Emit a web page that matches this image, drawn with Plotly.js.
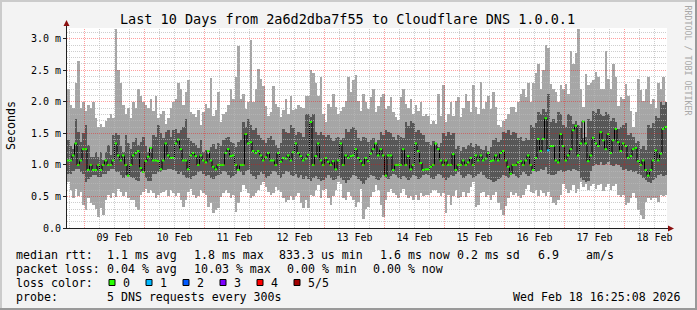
<!DOCTYPE html>
<html><head><meta charset="utf-8">
<script src="https://cdn.plot.ly/plotly-3.0.1.min.js"></script>
<style>html,body{margin:0;padding:0;background:#f3f3f3;}#chart{width:697px;height:310px;}</style>
</head><body><div id="chart"></div>
<script>
// ---- data (milliseconds), one value per hour, starting 2026-02-08 17:00 ----
const startUTC = Date.UTC(2026, 1, 8, 17, 0, 0);
const stepMs = 3600e3;

const maxRtt = [
2.2,1.95,1.9,2.3,2.65,1.9,2.0,1.85,1.95,1.9,2.0,1.75,1.6,1.65,1.6,1.7,1.75,1.8,1.75,3.15,2.5,2.3,1.95,1.8,1.9,1.75,2.0,1.9,2.2,2.1,2.0,1.95,1.9,2.05,1.85,2.1,1.75,1.8,1.85,1.65,1.75,1.9,2.0,2.05,2.3,2.2,1.95,2.15,
2.34,1.84,1.8,1.76,1.87,1.63,1.84,1.97,1.9,2.38,1.78,1.87,2.15,1.68,1.81,1.84,1.95,2.2,2.05,2.4,2.88,2.05,2.13,1.89,2.0,2.98,1.99,2.2,2.52,2.36,2.25,1.94,1.78,1.84,2.25,1.97,1.92,1.76,1.87,2.05,1.81,2.1,1.87,1.89,1.95,1.92,1.9,2.1,
2.1,2.5,2.45,2.3,2.1,2.4,1.8,1.68,1.97,1.92,2.13,1.92,1.8,1.85,1.92,2.02,2.4,2.15,2.34,2.42,2.02,1.86,2.13,2.0,1.89,2.07,2.2,1.84,1.94,2.07,2.13,1.89,1.94,2.07,1.84,1.76,1.71,2.07,2.2,1.97,1.9,2.05,1.8,1.95,1.85,2.0,1.78,1.8,
1.78,1.65,1.7,1.65,2.13,1.78,2.26,1.68,1.81,2.0,1.78,2.02,2.07,1.76,1.9,2.13,2.02,1.84,2.26,1.92,1.81,2.31,1.89,2.0,2.1,1.89,2.15,1.92,1.63,1.6,1.7,1.73,1.81,1.92,1.92,1.84,2.0,2.13,2.2,2.07,2.3,2.0,2.3,2.45,2.6,2.2,2.5,2.9,
2.85,2.28,2.2,2.15,1.99,2.26,2.2,2.28,2.13,2.81,2.6,2.78,3.15,2.2,1.92,2.44,2.26,2.3,2.34,2.47,2.39,2.2,2.2,2.8,2.36,2.2,2.6,2.39,1.94,2.07,2.05,2.28,2.1,1.86,1.6,1.84,2.36,2.18,2.02,2.2,2.39,1.97,2.05,1.9,2.3,2.2,2.4,2.0
];
const minRtt = [
0.73,0.6,0.47,0.62,0.5,0.57,0.36,0.28,0.47,0.4,0.36,0.3,0.18,0.31,0.2,0.44,0.52,0.47,0.55,0.49,0.62,0.57,0.5,0.57,0.47,0.44,0.44,0.34,0.28,0.52,0.57,0.62,0.55,0.6,0.55,0.47,0.52,0.55,0.57,0.6,0.5,0.6,0.55,0.5,0.55,0.45,0.34,0.44,
0.57,0.62,0.52,0.47,0.5,0.6,0.55,0.52,0.34,0.4,0.23,0.28,0.31,0.49,0.55,0.6,0.55,0.47,0.52,0.26,0.4,0.57,0.68,0.62,0.55,0.47,0.5,0.55,0.6,0.68,0.73,0.65,0.57,0.52,0.55,0.65,0.6,0.57,0.47,0.42,0.44,0.5,0.45,0.5,0.55,0.4,0.31,0.45,
0.31,0.52,0.5,0.6,0.68,0.47,0.6,0.62,0.47,0.36,0.5,0.6,0.73,0.7,0.47,0.44,0.57,0.5,0.44,0.34,0.42,0.62,0.15,0.3,0.34,0.49,0.57,0.68,0.6,0.36,0.18,0.44,0.57,0.62,0.55,0.52,0.47,0.55,0.62,0.52,0.47,0.5,0.44,0.52,0.45,0.55,0.5,0.52,
0.52,0.55,0.6,0.6,0.55,0.5,0.55,0.23,0.52,0.36,0.5,0.6,0.47,0.49,0.57,0.49,0.55,0.65,0.73,0.34,0.36,0.55,0.57,0.49,0.52,0.44,0.52,0.57,0.39,0.28,0.2,0.35,0.47,0.57,0.52,0.55,0.5,0.47,0.52,0.62,0.68,0.57,0.55,0.6,0.5,0.6,0.55,0.5,
0.57,0.49,0.4,0.36,0.44,0.52,0.7,0.62,0.55,0.6,0.68,0.55,0.62,0.73,0.65,0.7,0.6,0.66,0.7,0.62,0.68,0.7,0.58,0.65,0.7,0.6,0.66,0.7,0.52,0.49,0.52,0.36,0.4,0.47,0.55,0.47,0.28,0.2,0.15,0.41,0.47,0.44,0.47,0.47,0.41,0.52,0.5,0.52
];
const upperRtt = [
1.39,1.3,1.26,1.73,1.52,1.36,1.5,1.63,1.31,1.13,1.13,1.2,1.13,1.21,1.08,1.21,1.31,1.15,1.47,1.5,1.47,1.3,1.21,1.47,1.34,1.26,1.36,1.42,1.31,1.36,1.44,1.3,1.21,1.21,1.47,1.44,1.63,1.5,1.42,1.52,1.56,1.45,1.55,1.57,1.5,1.55,1.6,1.73,
1.42,1.38,1.35,1.31,1.27,1.39,1.2,1.24,1.18,1.28,1.33,1.26,1.34,1.3,1.39,1.42,1.44,1.37,1.34,1.29,1.36,1.4,1.68,1.6,1.72,1.63,1.55,1.58,1.47,1.42,1.39,1.35,1.42,1.46,1.4,1.31,1.27,1.34,1.57,1.52,1.5,1.63,1.58,1.47,1.52,1.5,1.44,1.8,
1.8,1.76,1.8,1.52,1.48,1.52,1.47,1.44,1.47,1.42,1.38,1.42,1.45,1.4,1.42,1.57,1.52,1.57,1.6,1.55,1.42,1.38,1.45,1.42,1.36,1.39,1.42,1.35,1.39,1.52,1.48,1.55,1.52,1.5,1.44,1.4,1.47,1.44,1.42,1.68,1.62,1.7,1.66,1.52,1.55,1.5,1.47,1.36,
1.36,1.32,1.38,1.31,1.28,1.34,1.5,1.46,1.52,1.48,1.5,1.26,1.3,1.22,1.28,1.26,1.31,1.34,1.28,1.33,1.3,1.26,1.24,1.3,1.22,1.28,1.39,1.42,1.36,1.4,1.52,1.5,1.55,1.48,1.52,1.5,1.42,1.45,1.38,1.42,1.4,1.63,1.6,1.66,1.84,1.8,1.88,1.84,
2.13,1.68,1.72,1.66,1.84,1.8,1.63,1.6,1.81,1.78,1.65,1.7,1.63,1.58,1.42,1.45,1.73,1.7,1.86,1.82,1.88,1.81,1.78,1.84,1.8,1.7,1.74,1.68,1.57,1.6,1.63,1.66,1.47,1.5,1.44,1.34,1.38,1.26,1.3,1.24,1.63,1.58,1.66,1.78,1.74,1.99,1.95,2.0
];
const lowerRtt = [
0.86,0.86,0.9,0.94,0.94,0.88,0.86,0.73,0.78,0.81,0.84,0.84,0.81,0.81,0.86,0.86,0.9,0.94,0.94,0.89,0.89,0.84,0.79,0.84,0.84,0.81,0.79,0.76,0.74,0.89,0.89,0.8,0.74,0.74,0.86,0.86,0.89,0.89,0.92,0.92,0.94,0.94,0.92,0.9,0.86,0.88,0.84,0.8,
0.8,0.78,0.82,0.84,0.88,0.9,0.86,0.82,0.84,0.8,0.78,0.82,0.84,0.86,0.9,0.88,0.84,0.8,0.82,0.86,0.9,0.88,0.84,0.9,0.92,0.86,0.82,0.78,0.84,0.88,0.86,0.8,0.82,0.86,0.9,0.88,0.84,0.8,0.86,0.9,0.88,0.84,0.82,0.86,0.8,0.84,0.78,0.82,
0.78,0.75,0.8,0.82,0.78,0.74,0.76,0.8,0.84,0.8,0.76,0.78,0.82,0.8,0.76,0.72,0.76,0.8,0.84,0.82,0.78,0.74,0.7,0.76,0.8,0.84,0.82,0.78,0.76,0.8,0.84,0.8,0.78,0.82,0.86,0.84,0.8,0.78,0.82,0.8,0.76,0.8,0.84,0.82,0.78,0.8,0.84,0.86,
0.84,0.8,0.78,0.82,0.86,0.84,0.8,0.76,0.8,0.84,0.82,0.86,0.88,0.84,0.8,0.82,0.86,0.84,0.8,0.82,0.86,0.88,0.84,0.8,0.78,0.76,0.73,0.74,0.78,0.8,0.84,0.82,0.8,0.84,0.86,0.82,0.8,0.84,0.88,0.86,0.82,0.86,0.9,0.88,0.9,0.94,0.92,0.96,
0.86,0.84,0.84,0.86,0.9,0.92,0.88,0.9,0.92,0.9,0.94,0.92,0.9,0.8,0.76,0.73,0.75,0.9,0.98,1.02,1.0,1.05,1.0,1.02,1.05,1.0,0.98,1.02,1.0,0.96,0.92,0.94,0.9,0.92,0.88,0.9,0.86,0.84,0.8,0.76,0.73,0.72,0.76,0.8,0.84,0.86,0.82,0.84
];
const medianRtt = [
1.07,1.07,1.15,1.34,1.0,1.07,1.25,1.25,0.92,1.0,0.92,0.92,1.0,0.92,1.0,1.07,1.0,1.0,1.07,1.34,1.15,1.07,1.15,1.0,0.83,1.0,1.15,1.19,1.22,0.95,0.89,1.06,1.13,1.27,1.07,1.07,1.06,0.93,1.07,1.34,1.15,1.11,1.11,1.34,1.4,1.25,1.07,1.07,
0.93,1.15,1.19,1.14,1.0,1.15,1.07,1.04,1.22,1.07,0.97,0.93,1.0,1.0,1.0,1.19,1.25,1.14,1.15,1.0,0.92,1.0,1.0,1.49,1.34,1.36,1.22,1.19,1.22,1.15,1.07,1.12,1.19,1.07,1.07,1.0,1.19,1.05,1.11,1.1,1.15,1.07,1.2,1.34,1.19,1.14,1.07,1.1,
1.16,1.68,1.0,1.14,1.34,1.07,1.0,1.11,1.05,1.0,1.06,0.93,1.07,1.34,1.0,1.15,1.11,1.14,1.15,1.25,1.11,1.06,1.0,1.11,1.06,1.18,1.25,1.34,1.15,1.25,1.15,0.83,1.15,1.15,0.92,1.0,1.0,1.0,1.25,1.0,1.14,0.93,1.0,1.34,1.22,1.03,0.92,0.93,
0.93,0.97,1.0,1.34,1.25,1.07,1.0,1.07,1.0,1.0,1.17,0.92,1.0,1.0,1.07,1.0,1.04,1.11,1.0,1.15,1.07,1.15,1.07,1.1,1.19,1.06,1.07,1.15,1.07,1.19,1.22,1.07,0.97,0.86,1.0,1.0,1.04,1.06,1.0,1.07,1.15,1.0,0.92,1.11,1.41,1.22,1.41,1.74,
1.23,1.3,1.3,1.07,1.04,1.49,1.3,1.07,1.15,1.25,1.55,1.62,1.15,1.34,1.69,1.34,1.06,1.15,1.43,1.34,1.3,1.52,1.39,1.25,1.49,1.19,1.39,1.57,1.36,1.22,1.34,1.3,1.11,1.14,1.25,1.27,1.06,1.0,1.07,0.92,0.83,0.92,1.07,1.23,1.07,1.18,1.57,1.6
];
const lossHour = [192];     // hour index with packet loss
const lossPackets = [1];    // lost packets (of 5)

const lossColors = ['#26ff00','#00b8ff','#0059ff','#7e00ff','#ff0000','#a10000'];
const lossLabels = ['0','1','2','3','4','5/5'];
const dayTickDates = ['2026-02-09 12:00','2026-02-10 12:00','2026-02-11 12:00','2026-02-12 12:00','2026-02-13 12:00','2026-02-14 12:00','2026-02-15 12:00','2026-02-16 12:00','2026-02-17 12:00','2026-02-18 12:00'];
const dayTickText = ['09 Feb','10 Feb','11 Feb','12 Feb','13 Feb','14 Feb','15 Feb','16 Feb','17 Feb','18 Feb'];
const yTickVals = [0,0.5,1.0,1.5,2.0,2.5,3.0];
const yTickText = ['0.0','0.5 m','1.0 m','1.5 m','2.0 m','2.5 m','3.0 m'];
const statsRtt = ['median rtt:','1.1 ms avg','1.8 ms max','833.3 us min','1.6 ms now','0.2 ms sd','6.9','am/s'];
const statsLoss = ['packet loss:','0.04 % avg','10.03 % max','0.00 % min','0.00 % now'];
const probeText = ['probe:','5 DNS requests every 300s'];
const stampText = 'Wed Feb 18 16:25:08 2026';
const titleText = 'Last 10 Days from 2a6d2dba7f55 to Cloudflare DNS 1.0.0.1';

// ---- helpers ----
const N = medianRtt.length;
const dstr = ms => new Date(ms).toISOString().slice(0,19).replace('T',' ');
const centers = [], edges = [];
for (let i = 0; i < N; i++) { centers.push(dstr(startUTC + (i+0.5)*stepMs)); edges.push(dstr(startUTC + i*stepMs)); }
edges.push(dstr(startUTC + N*stepMs));
const xRange = [dstr(startUTC), dstr(startUTC + N*stepMs)];
const yMax = 3.17;

const W = 697, H = 310, L = 67, T = 28, PW = 600, PH = 200;
const px = v => (v - L) / PW;            // pixel -> paper x
const py = v => (T + PH - v) / PH;        // pixel -> paper y
const mono = 'DejaVu Sans Mono, monospace';

const lossOf = i => { const k = lossHour.indexOf(i); return k >= 0 ? lossPackets[k] : 0; };

// median swatches as horizontal segments, one trace per loss colour
const swatchTraces = lossColors.map((c, lc) => {
  const xs = [], ys = [];
  for (let i = 0; i < N; i++) if (lossOf(i) === lc) { xs.push(edges[i], edges[i+1], null); ys.push(medianRtt[i], medianRtt[i], null); }
  return {type:'scatter', mode:'lines', x:xs, y:ys, line:{color:c, width:2}, hoverinfo:'skip', connectgaps:false};
}).filter(t => t.x.length);

const traces = [
  {type:'bar', x:centers, base:minRtt, y:maxRtt.map((v,i)=>v-minRtt[i]), width:stepMs,
   marker:{color:'#a6a6a6', line:{width:0}}, hoverinfo:'skip'},
  {type:'bar', x:centers, base:lowerRtt, y:upperRtt.map((v,i)=>v-lowerRtt[i]), width:stepMs,
   marker:{color:'#575757', line:{width:0}}, hoverinfo:'skip'},
  {type:'scatter', mode:'lines', x:edges, y:medianRtt.concat([medianRtt[N-1]]),
   line:{shape:'hv', color:'#000000', width:1}, hoverinfo:'skip'}
].concat(swatchTraces);

// ---- grid (drawn above data like rrdtool) ----
const shapes = [];
for (let h = 1; h < N; h += 6) {
  const midnight = ((h - 7) % 24 === 0);
  shapes.push({type:'line', layer:'above', xref:'x', yref:'paper', x0:dstr(startUTC+h*stepMs), x1:dstr(startUTC+h*stepMs), y0:0, y1:1,
    line:{color: midnight ? 'rgba(255,0,0,0.38)' : 'rgba(185,185,185,0.7)', width:1, dash:'1px,1px'}});
}
for (let k = 1; k <= 31; k++) {
  const v = k/10;
  const major = (k % 5 === 0);
  const row = Math.floor(PH*(1 - v/yMax)) + 0.5;
  shapes.push({type:'line', layer:'above', xref:'paper', yref:'paper', x0:0, x1:1, y0:1-row/PH, y1:1-row/PH,
    line:{color: major ? 'rgba(255,0,0,0.38)' : 'rgba(185,185,185,0.7)', width:1, dash:'1px,1px'}});
}
// axes + arrows
shapes.push({type:'line', layer:'above', xref:'paper', yref:'paper', x0:px(66.5), x1:px(66.5), y0:py(228), y1:py(24), line:{color:'#202020', width:1}});
shapes.push({type:'line', layer:'above', xref:'paper', yref:'paper', x0:px(63), x1:px(669), y0:py(228.5), y1:py(228.5), line:{color:'#202020', width:1}});
shapes.push({type:'path', layer:'above', xref:'paper', yref:'paper',
  path:`M ${px(63.5)} ${py(26)} L ${px(69.5)} ${py(26)} L ${px(66.5)} ${py(20)} Z`, fillcolor:'#8b1010', line:{width:0}});
shapes.push({type:'path', layer:'above', xref:'paper', yref:'paper',
  path:`M ${px(668)} ${py(225.5)} L ${px(668)} ${py(231.5)} L ${px(674)} ${py(228.5)} Z`, fillcolor:'#8b1010', line:{width:0}});
// loss colour boxes
lossColors.forEach((c, k) => {
  const x0 = 109 + 37*k;
  shapes.push({type:'rect', xref:'paper', yref:'paper', x0:px(x0), x1:px(x0+6), y0:py(285.5), y1:py(279.5), fillcolor:c, line:{color:'#000', width:1}});
});
// 3D border of the image
shapes.push({type:'line', xref:'paper', yref:'paper', x0:px(0), x1:px(697), y0:py(1), y1:py(1), line:{color:'#cbcbcb', width:2}});
shapes.push({type:'line', xref:'paper', yref:'paper', x0:px(1), x1:px(1), y0:py(0), y1:py(310), line:{color:'#cbcbcb', width:2}});
shapes.push({type:'line', xref:'paper', yref:'paper', x0:px(0), x1:px(697), y0:py(309), y1:py(309), line:{color:'#999999', width:2}});
shapes.push({type:'line', xref:'paper', yref:'paper', x0:px(696), x1:px(696), y0:py(0), y1:py(310), line:{color:'#999999', width:2}});

// ---- texts ----
const nb = s => s.replace(/ /g, '\u00a0');
const annotations = [];
const txt = (x, y, s, opts={}) => annotations.push(Object.assign({xref:'paper', yref:'paper', x:px(x), y:py(y), text:nb(s), showarrow:false,
  xanchor:'left', yanchor:'middle', borderpad:0, borderwidth:0, font:{family:mono, size:11.6, color:'#000'}}, opts));
[16,107,194,279,380,457,538,586].forEach((x,k)=>txt(x, 254.5, statsRtt[k]));
[16,107,194,287,373].forEach((x,k)=>txt(x, 268.5, statsLoss[k]));
txt(16, 282.5, 'loss color:');
[123,160,197,234,271,308].forEach((x,k)=>txt(x, 282.5, lossLabels[k]));
txt(16, 296.5, probeText[0]); txt(107, 296.5, probeText[1]); txt(513, 296.5, stampText);
annotations.push({xref:'paper', yref:'paper', x:px(11), y:py(126), text:'Seconds', textangle:-90, showarrow:false,
  xanchor:'center', yanchor:'middle', font:{family:mono, size:11.6, color:'#000'}});
annotations.push({xref:'paper', yref:'paper', x:px(687.5), y:py(60), text:nb('RRDTOOL / TOBI OETIKER'), textangle:90, showarrow:false,
  xanchor:'center', yanchor:'middle', font:{family:mono, size:8.3, color:'#a8a8a8'}});

const layout = {
  width:W, height:H, margin:{l:L, r:W-L-PW, t:T, b:H-T-PH, pad:0},
  paper_bgcolor:'#f3f3f3', plot_bgcolor:'#ffffff', showlegend:false,
  barmode:'overlay', bargap:0,
  title:{text:titleText, font:{family:mono, size:13.5, color:'#000'}, xref:'container', x:347.5/W, xanchor:'center', y:1-19/H, yanchor:'middle'},
  xaxis:{type:'date', range:xRange, showgrid:false, zeroline:false, showline:false, ticks:'', ticklabelstandoff:2,
    tickmode:'array', tickvals:dayTickDates, ticktext:dayTickText, tickfont:{family:mono, size:10, color:'#000'}},
  yaxis:{range:[0,yMax], showgrid:false, zeroline:false, showline:false, ticks:'outside', ticklen:3, tickcolor:'#202020', tickwidth:1,
    tickmode:'array', tickvals:yTickVals, ticktext:yTickText, tickfont:{family:mono, size:10, color:'#000'}},
  shapes, annotations
};
Plotly.newPlot('chart', traces, layout, {displayModeBar:false, staticPlot:true});
</script></body></html>
